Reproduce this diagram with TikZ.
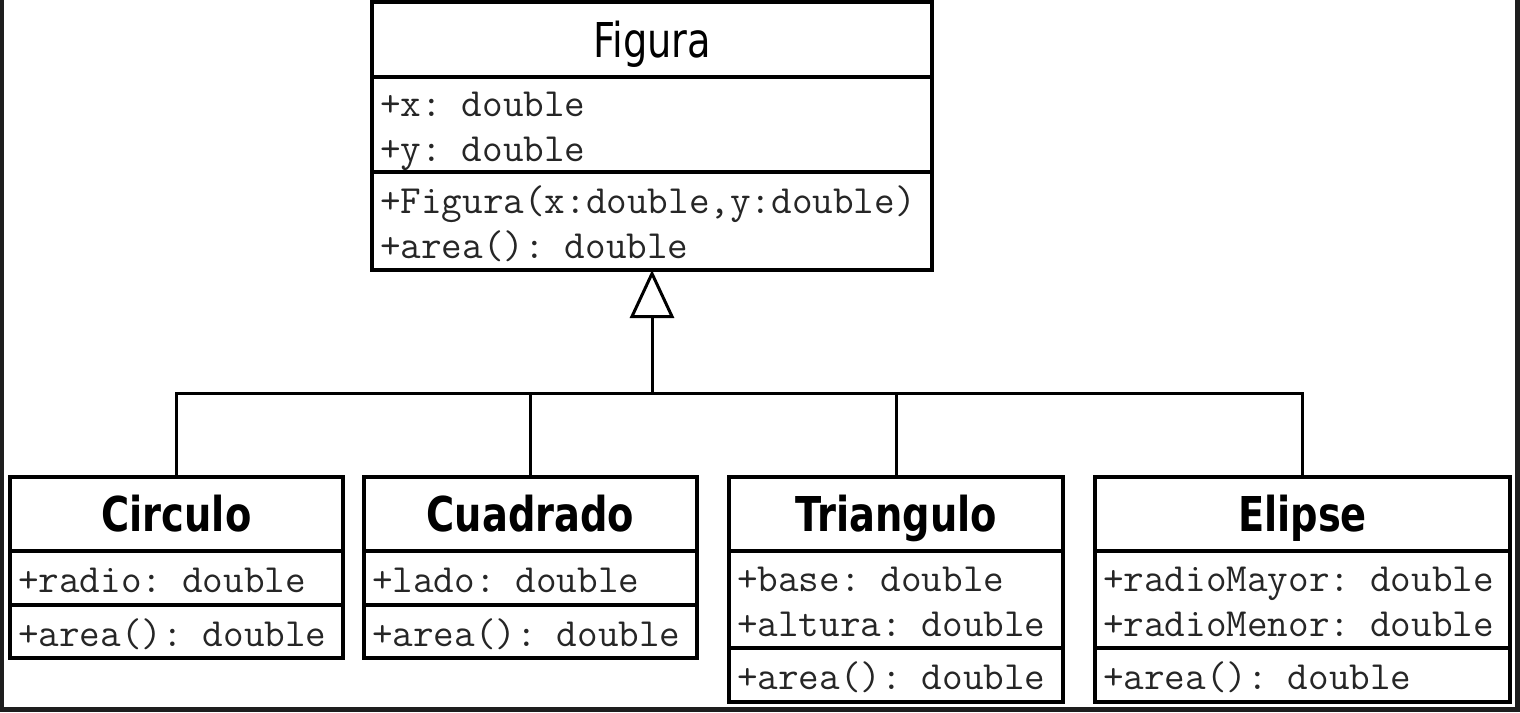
\documentclass[tikz,border=0pt]{standalone}
\usepackage{fontspec}
\newfontfamily\classfont[FakeStretch=0.8]{DejaVu Sans}
\usepackage{tikz}
\usetikzlibrary{positioning, arrows.meta}

\definecolor{framegray}{HTML}{1E1E1E}

\tikzset{
  classname/.style={draw, line width=4pt, outer sep=0pt, inner sep=0pt,
    text height=35pt, text depth=0pt,
    font=\classfont\fontsize{48}{56}\selectfont},
  members/.style={draw, line width=4pt, outer sep=0pt, inner xsep=8pt,
    inner ysep=0pt, align=left, text=black!85,
    font=\ttfamily\fontsize{40}{45}\selectfont,
    execute at begin node={\rule{0pt}{39pt}},
    execute at end node={\rule[-10pt]{0pt}{10pt}}},
  link/.style={line width=3pt},
  inherit/.style={line width=3pt, -{Triangle[open, length=48pt, width=44pt]}}
}

\begin{document}
\begin{tikzpicture}[x=1pt, y=-1pt]
        \useasboundingbox (0, 0) rectangle (1520, 712);
        \fill[framegray] (0, 0) rectangle (1520, 712);
        \fill[white] (4, 0) rectangle (1515, 707);

        \node[classname, minimum width=560pt, minimum height=75pt, anchor=north west] (fig) at (372, 2) {Figura};
        \node[members, minimum width=560pt, text width=544pt, minimum height=95pt, below=0pt of fig] (figa)
          {+x: double\\+y: double};
        \node[members, minimum width=560pt, text width=544pt, minimum height=98pt, below=0pt of figa] (figm)
          {+Figura(x:double,y:double)\\+area(): double};

        \node[classname, font=\classfont\bfseries\fontsize{48}{56}\selectfont, minimum width=333pt, minimum height=74pt, anchor=north west] (circ) at (10, 477) {Circulo};
        \node[members, minimum width=333pt, text width=317pt, minimum height=54pt, below=0pt of circ] (circa)
          {+radio: double};
        \node[members, minimum width=333pt, text width=317pt, minimum height=53pt, below=0pt of circa] (circm)
          {+area(): double};

        \node[classname, font=\classfont\bfseries\fontsize{48}{56}\selectfont, minimum width=333pt, minimum height=74pt, anchor=north west] (cuad) at (364, 477) {Cuadrado};
        \node[members, minimum width=333pt, text width=317pt, minimum height=54pt, below=0pt of cuad] (cuada)
          {+lado: double};
        \node[members, minimum width=333pt, text width=317pt, minimum height=53pt, below=0pt of cuada] (cuadm)
          {+area(): double};

        \node[classname, font=\classfont\bfseries\fontsize{48}{56}\selectfont, minimum width=334pt, minimum height=74pt, anchor=north west] (tri) at (729, 477) {Triangulo};
        \node[members, minimum width=334pt, text width=318pt, minimum height=97pt, below=0pt of tri] (tria)
          {+base: double\\+altura: double};
        \node[members, minimum width=334pt, text width=318pt, minimum height=54pt, below=0pt of tria] (trim)
          {+area(): double};

        \node[classname, font=\classfont\bfseries\fontsize{48}{56}\selectfont, minimum width=415pt, minimum height=74pt, anchor=north west] (elip) at (1095, 477) {Elipse};
        \node[members, minimum width=415pt, text width=399pt, minimum height=97pt, below=0pt of elip] (elipa)
          {+radioMayor: double\\+radioMenor: double};
        \node[members, minimum width=415pt, text width=399pt, minimum height=54pt, below=0pt of elipa] (elipm)
          {+area(): double};

        \coordinate (hub) at (652, 393);

        \draw[link] (circ.north) |- (hub);
        \draw[link] (cuad.north) |- (hub);
        \draw[link] (tri.north) |- (hub);
        \draw[link] (elip.north) |- (hub);
        \draw[inherit] (hub) -- (figm.south);
      \end{tikzpicture}
\end{document}
